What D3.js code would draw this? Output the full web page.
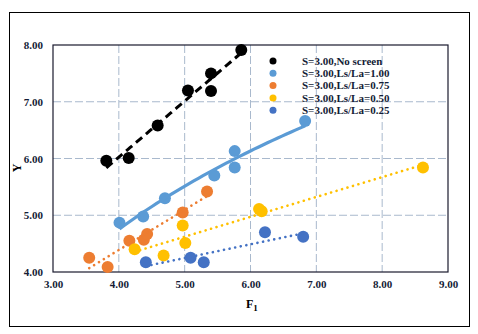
<!DOCTYPE html>
<meta charset="utf-8">
<style>
  body { margin: 0; background: #fff; }
  text { font-family: "Liberation Serif", "Times New Roman", serif; font-weight: bold; }
  .grid line { stroke: #a9b9cd; stroke-width: 1px; stroke-dasharray: 8,3; }
</style>
<body>
<svg width="478" height="334"></svg>
<script src="https://cdnjs.cloudflare.com/ajax/libs/d3/7.8.5/d3.min.js"></script>
<script>

// series data
var seriesNames = ["S=3.00,No screen", "S=3.00,Ls/La=1.00", "S=3.00,Ls/La=0.75", "S=3.00,Ls/La=0.50", "S=3.00,Ls/La=0.25"];
var seriesColors = ["#000000", "#5b9bd5", "#ed7d31", "#ffc000", "#4472c4"];

var noScreenX = [3.81, 4.15, 4.59, 5.05, 5.40, 5.40, 5.86];
var noScreenY = [5.96, 6.01, 6.58, 7.20, 7.19, 7.50, 7.91];

var ls100X = [4.01, 4.37, 4.70, 5.45, 5.76, 5.76, 6.83];
var ls100Y = [4.87, 4.98, 5.30, 5.70, 5.84, 6.13, 6.66];

var ls075X = [3.55, 3.83, 4.16, 4.38, 4.43, 4.97, 5.34];
var ls075Y = [4.25, 4.09, 4.55, 4.57, 4.67, 5.05, 5.42];

var ls050X = [4.24, 4.68, 4.97, 5.01, 6.13, 6.17, 8.62];
var ls050Y = [4.40, 4.29, 4.82, 4.51, 5.11, 5.07, 5.84];

var ls025X = [4.41, 5.09, 5.29, 6.22, 6.80];
var ls025Y = [4.17, 4.25, 4.17, 4.70, 4.62];

// trendline type per series (Excel style)
var trendTypes = ["linear", "log", "linear", "linear", "linear"];

var xTicks = [3, 4, 5, 6, 7, 8, 9];
var yTicks = [4, 5, 6, 7, 8];

var allX = [noScreenX, ls100X, ls075X, ls050X, ls025X];
var allY = [noScreenY, ls100Y, ls075Y, ls050Y, ls025Y];

var series = seriesNames.map(function(name, i) {
  return {
    name: name,
    color: seriesColors[i],
    trend: trendTypes[i],
    points: allX[i].map(function(x, j) { return {x: x, y: allY[i][j]}; })
  };
});

const svg = d3.select("svg");

// outer frame
svg.append("rect")
  .attr("x", 9.5).attr("y", 12.5)
  .attr("width", 460).attr("height", 314)
  .attr("fill", "none").attr("stroke", "#000").attr("stroke-width", 1);

const pLeft = 53, pRight = 448, pTop = 45, pBottom = 272;

const x = d3.scaleLinear().domain([3, 9]).range([pLeft, pRight]);
const y = d3.scaleLinear().domain([4, 8]).range([pBottom, pTop]);

// gridlines
const grid = svg.append("g").attr("class", "grid");
grid.selectAll(".vg")
  .data(xTicks.slice(1, -1))
  .enter().append("line")
  .attr("x1", d => x(d)).attr("x2", d => x(d))
  .attr("y1", pTop).attr("y2", pBottom);
grid.selectAll(".hg")
  .data(yTicks.slice(1, -1))
  .enter().append("line")
  .attr("x1", pLeft).attr("x2", pRight)
  .attr("y1", d => y(d)).attr("y2", d => y(d));

// plot border
svg.append("rect")
  .attr("x", pLeft).attr("y", pTop)
  .attr("width", pRight - pLeft).attr("height", pBottom - pTop)
  .attr("fill", "none").attr("stroke", "#1a1a2e").attr("stroke-width", 1.2);

// axes
const xAxis = svg.append("g")
  .attr("transform", `translate(0,${pBottom})`)
  .call(d3.axisBottom(x).tickValues(xTicks).tickSize(0).tickPadding(8).tickFormat(d3.format(".2f")));
const yAxis = svg.append("g")
  .attr("transform", `translate(${pLeft},0)`)
  .call(d3.axisLeft(y).tickValues(yTicks).tickSize(0).tickPadding(10).tickFormat(d3.format(".2f")));
[xAxis, yAxis].forEach(function(a) {
  a.select(".domain").remove();
  a.selectAll("text")
    .style("font-family", "'Liberation Serif', serif")
    .style("font-weight", "bold")
    .style("font-size", "11px")
    .attr("fill", "#141c36");
});

// axis titles
const xt = svg.append("text")
  .attr("x", 246).attr("y", 308)
  .attr("font-size", "12px").attr("fill", "#000");
xt.append("tspan").text("F");
xt.append("tspan").attr("dy", 3).attr("font-size", "9px").text("1");

svg.append("text")
  .attr("transform", "translate(21,168) rotate(-90)")
  .attr("text-anchor", "middle")
  .attr("font-size", "12px")
  .text("Y");

// trendlines
function fit(pts, type) {
  const tx = type === "log" ? (v => Math.log(v)) : (v => v);
  const xs = pts.map(p => tx(p.x)), ys = pts.map(p => p.y);
  const mx = d3.mean(xs), my = d3.mean(ys);
  let sxy = 0, sxx = 0;
  xs.forEach((v, i) => { sxy += (v - mx) * (ys[i] - my); sxx += (v - mx) * (v - mx); });
  const a = sxy / sxx, b = my - a * mx;
  return v => a * tx(v) + b;
}

const line = d3.line().x(d => x(d[0])).y(d => y(d[1]));

// points
series.forEach(function(s) {
  svg.append("g").selectAll("circle")
    .data(s.points)
    .enter().append("circle")
    .attr("cx", d => x(d.x))
    .attr("cy", d => y(d.y))
    .attr("r", 6)
    .attr("fill", s.color);
});

series.forEach(function(s, i) {
  const f = fit(s.points, s.trend);
  const ext = d3.extent(s.points, d => d.x);
  const xs = d3.range(0, 41).map(k => ext[0] + (ext[1] - ext[0]) * k / 40);
  const path = svg.append("path")
    .datum(xs.map(v => [v, f(v)]))
    .attr("d", line)
    .attr("fill", "none")
    .attr("stroke", s.color);
  if (i === 0) {
    path.attr("stroke-width", 3).attr("stroke-dasharray", "8,5");
  } else if (s.trend === "log") {
    path.attr("stroke-width", 3.2);
  } else {
    path.attr("stroke-width", 2.6).attr("stroke-linecap", "round").attr("stroke-dasharray", "0.1,5.6");
  }
});

// legend
const legend = svg.append("g").attr("transform", "translate(273,61)");
const li = legend.selectAll("g")
  .data(series)
  .enter().append("g")
  .attr("transform", (d, i) => `translate(0,${i * 12.3})`);
li.append("circle").attr("r", 3.5).attr("fill", d => d.color);
li.append("text")
  .attr("x", 29).attr("dy", "0.35em")
  .attr("font-size", "11px")
  .attr("fill", "#141c36")
  .text(d => d.name);

</script>
</body>
